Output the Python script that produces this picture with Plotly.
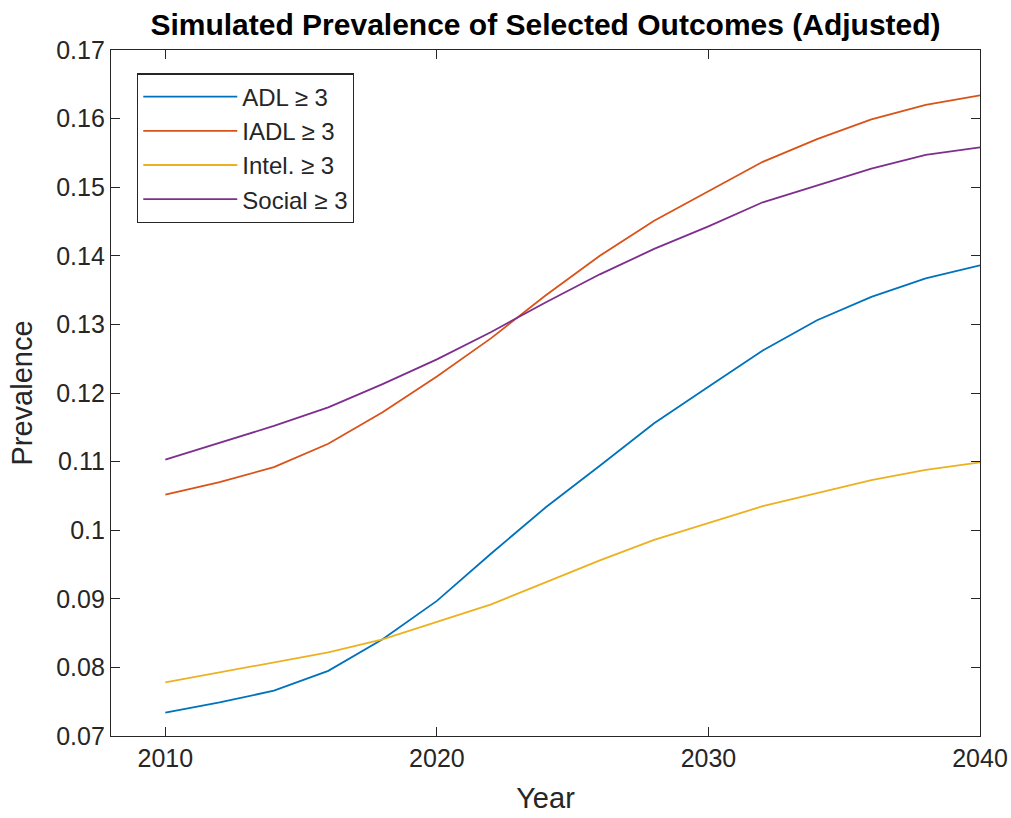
import plotly.graph_objects as go

# Simulated prevalence by year (two-year steps)
years = [2010, 2012, 2014, 2016, 2018, 2020, 2022, 2024, 2026, 2028,
         2030, 2032, 2034, 2036, 2038, 2040]
adl = [0.0734, 0.0749, 0.0766, 0.0795, 0.0841, 0.0897, 0.0966, 0.1033,
       0.1094, 0.1156, 0.1209, 0.1262, 0.1306, 0.1340, 0.1367, 0.1386]
iadl = [0.1052, 0.1070, 0.1092, 0.1126, 0.1172, 0.1224, 0.1280, 0.1342,
        0.1400, 0.1451, 0.1494, 0.1537, 0.1570, 0.1599, 0.1620, 0.1634]
intel = [0.0778, 0.0793, 0.0807, 0.0822, 0.0841, 0.0866, 0.0892, 0.0924,
         0.0956, 0.0986, 0.1010, 0.1035, 0.1054, 0.1073, 0.1088, 0.1099]
social = [0.1103, 0.1127, 0.1152, 0.1179, 0.1213, 0.1249, 0.1289, 0.1332,
          0.1373, 0.1410, 0.1443, 0.1478, 0.1502, 0.1527, 0.1547, 0.1558]

series_names = ["ADL ≥ 3", "IADL ≥ 3", "Intel. ≥ 3", "Social ≥ 3"]
series_values = [adl, iadl, intel, social]
colors = ["#0072BD", "#D95319", "#EDB120", "#7E2F8E"]

x_ticks = [2010, 2020, 2030, 2040]
y_ticks = [0.07, 0.08, 0.09, 0.10, 0.11, 0.12, 0.13, 0.14, 0.15, 0.16, 0.17]
y_tick_text = ["0.07", "0.08", "0.09", "0.1", "0.11", "0.12", "0.13",
               "0.14", "0.15", "0.16", "0.17"]

AXIS_COLOR = "#262626"
FONT = "Liberation Sans, Arial, Helvetica, sans-serif"

fig = go.Figure()
for name, vals, col in zip(series_names, series_values, colors):
    fig.add_trace(go.Scatter(
        x=years, y=vals, mode="lines", name=name,
        line=dict(color=col, width=1.8),
    ))

axis_common = dict(
    showline=True, linecolor=AXIS_COLOR, linewidth=1.2,
    mirror="ticks", ticks="inside", ticklen=9, tickwidth=1.2,
    tickcolor=AXIS_COLOR, showgrid=False, zeroline=False,
    automargin=False,
    tickfont=dict(family=FONT, size=25, color=AXIS_COLOR),
)

fig.update_xaxes(
    range=[2008, 2040], tickvals=x_ticks,
    title=dict(text="Year", font=dict(family=FONT, size=29, color=AXIS_COLOR),
               standoff=16),
    **axis_common,
)
fig.update_yaxes(
    range=[0.07, 0.17], tickvals=y_ticks, ticktext=y_tick_text,
    title=dict(text="Prevalence", font=dict(family=FONT, size=29, color=AXIS_COLOR),
               standoff=15),
    **axis_common,
)

fig.update_layout(
    width=1011, height=818,
    margin=dict(l=111, r=31, t=50, b=82),
    paper_bgcolor="white", plot_bgcolor="white",
    title=dict(
        text="<b>Simulated Prevalence of Selected Outcomes (Adjusted)</b>",
        x=0.5, xref="paper", y=1 - 24 / 818, yref="container",
        xanchor="center", yanchor="middle",
        font=dict(family=FONT, size=30, color="black"),
    ),
    legend=dict(
        x=0.03, y=0.966, xanchor="left", yanchor="top",
        bgcolor="white", bordercolor=AXIS_COLOR, borderwidth=1.2,
        font=dict(family=FONT, size=24, color=AXIS_COLOR),
        itemwidth=94,
    ),
)

fig.write_html("out.html")
